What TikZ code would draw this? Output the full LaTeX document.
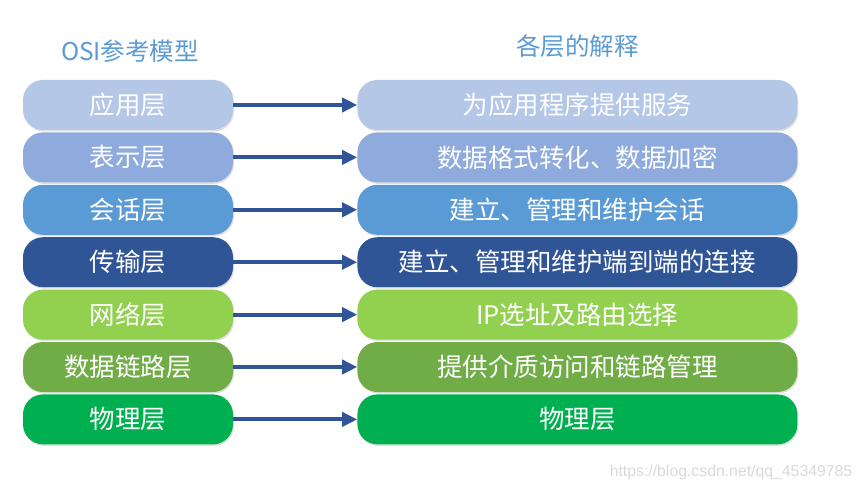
\documentclass[tikz,border=0pt]{standalone}
\usepackage{fontspec}
\setmainfont{Noto Sans CJK SC}
\newfontfamily\urlfont{Liberation Sans}
\usetikzlibrary{positioning}
\usetikzlibrary{arrows.meta}
\usetikzlibrary{shadows}

\definecolor{appc}{HTML}{B4C7E7}
\definecolor{presc}{HTML}{8FAADC}
\definecolor{sessc}{HTML}{5B9BD5}
\definecolor{transc}{HTML}{2F5597}
\definecolor{netc}{HTML}{92D050}
\definecolor{linkc}{HTML}{70AD47}
\definecolor{physc}{HTML}{00B050}
\definecolor{arrowblue}{HTML}{2F5597}
\definecolor{titleblue}{HTML}{5B9BD5}

\begin{document}
\begin{tikzpicture}[
  x=1pt, y=-1pt,
  layer/.style={rounded corners=20pt, minimum width=210pt, minimum height=50pt, inner sep=0pt, text=white,
    font=\fontsize{25.5}{27}\selectfont, drop shadow={shadow xshift=1pt, shadow yshift=-1.5pt, fill=black!30, opacity=0.4}},
  expl/.style={layer, minimum width=440pt},
  arrow/.style={-{Triangle[length=15pt, width=14pt]}, line width=4pt, draw=arrowblue},
  title/.style={text=titleblue, font=\fontsize{24.5}{26}\selectfont},
  watermark/.style={text=black!15, font=\urlfont\fontsize{15.8}{17}\selectfont}
]
\useasboundingbox (0,0) rectangle (862,492);

% OSI layers
\node[layer, fill=appc] (app) at (128,105) {应用层};
\node[layer, fill=presc, below=2pt of app] (pres) {表示层};
\node[layer, fill=sessc, below=2pt of pres] (sess) {会话层};
\node[layer, fill=transc, below=2pt of sess] (trans) {传输层};
\node[layer, fill=netc, below=2pt of trans] (net) {网络层};
\node[layer, fill=linkc, below=2pt of net] (link) {数据链路层};
\node[layer, fill=physc, below=2pt of link] (phys) {物理层};

% explanations
\node[expl, fill=appc, right=124pt of app] (appx) {为应用程序提供服务};
\node[expl, fill=presc, right=124pt of pres] (presx) {数据格式转化、数据加密};
\node[expl, fill=sessc, right=124pt of sess] (sessx) {建立、管理和维护会话};
\node[expl, fill=transc, right=124pt of trans] (transx) {建立、管理和维护端到端的连接};
\node[expl, fill=netc, right=124pt of net] (netx) {IP选址及路由选择};
\node[expl, fill=linkc, right=124pt of link] (linkx) {提供介质访问和链路管理};
\node[expl, fill=physc, right=124pt of phys] (physx) {物理层};

\node[title, above=14pt of app, xshift=2pt] (osi) {OSI参考模型};
\node[title, above=19pt of appx] (expltitle) {各层的解释};

\draw[arrow] (app) -- (appx);
\draw[arrow] (pres) -- (presx);
\draw[arrow] (sess) -- (sessx);
\draw[arrow] (trans) -- (transx);
\draw[arrow] (net) -- (netx);
\draw[arrow] (link) -- (linkx);
\draw[arrow] (phys) -- (physx);

\node[watermark] (url) at (731,472) {https://blog.csdn.net/qq\_45349785};

\end{tikzpicture}
\end{document}
